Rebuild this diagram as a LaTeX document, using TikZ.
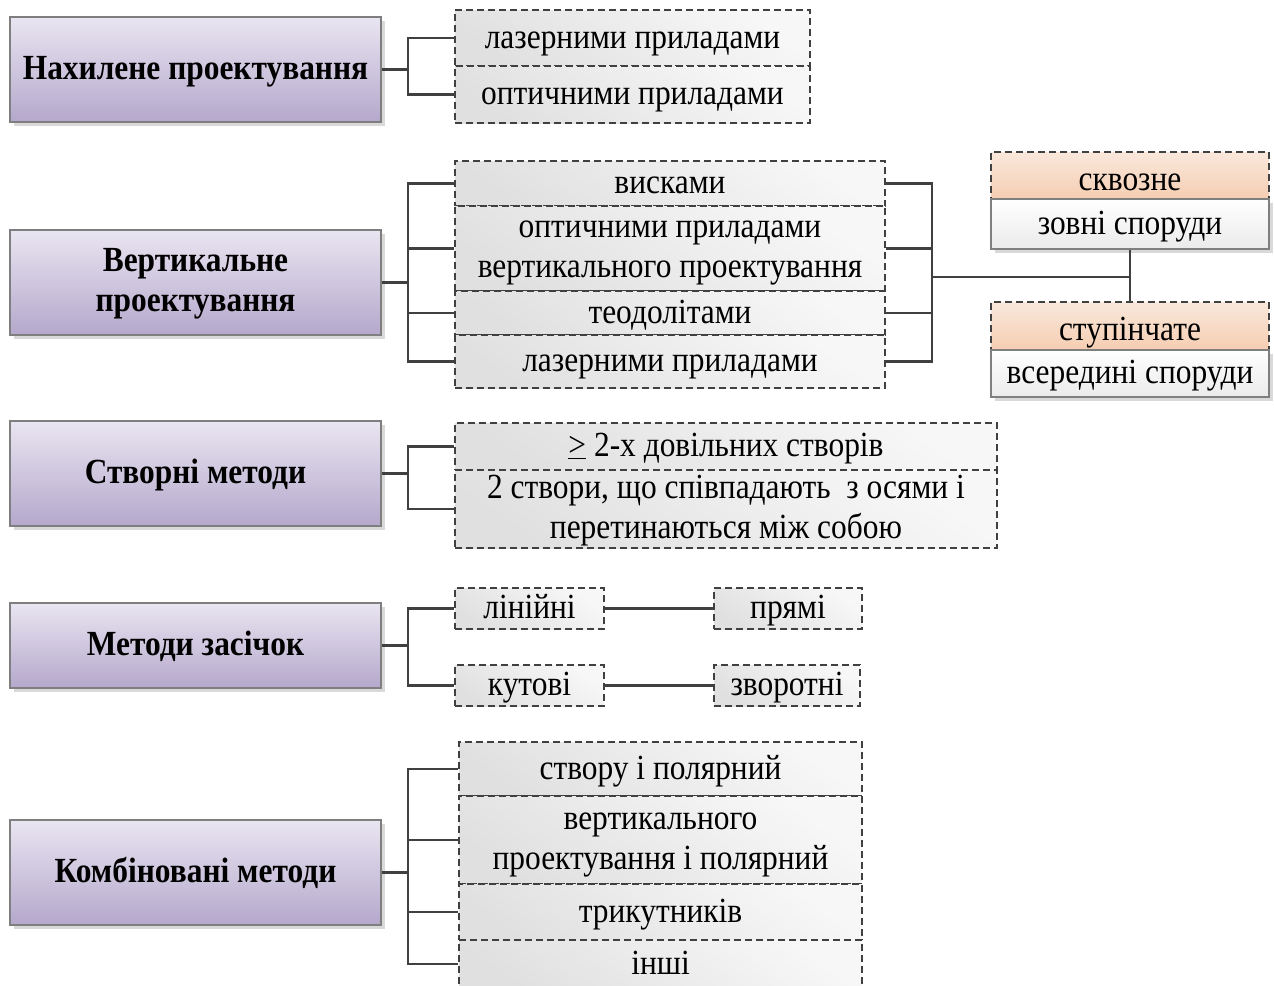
\documentclass[tikz,border=0pt]{standalone}
\usepackage{fontspec}
\setmainfont{Liberation Serif}[FakeStretch=0.89]
\usetikzlibrary{shadows}

\definecolor{lilacTop}{HTML}{E9E5F1}
\definecolor{lilacBot}{HTML}{B5A8CC}
\definecolor{peachTop}{HTML}{FAE8DC}
\definecolor{peachBot}{HTML}{F5CDB1}
\definecolor{lineGray}{HTML}{404040}
\definecolor{edgeGray}{HTML}{7F7F7F}

\begin{document}
\begin{tikzpicture}[x=1pt, y=-1pt,
    every node/.style={font=\fontsize{35.3}{40}\selectfont, inner sep=0pt, text height=30pt, text depth=10pt},
    two/.style={align=center, text height=58pt, text depth=0pt},
    method/.style={draw=edgeGray, line width=1.2pt, top color=lilacTop, bottom color=lilacBot,
        font=\fontsize{35.3}{40}\selectfont\bfseries, minimum width=371pt, minimum height=105pt,
        drop shadow={shadow xshift=4pt, shadow yshift=-4pt, fill=black!25, opacity=0.6}},
    way/.style={draw=lineGray, line width=1.3pt, dash pattern=on 7pt off 4pt,
        top color=black!3, bottom color=black!12, shading angle=-35},
    head/.style={draw=lineGray, line width=1.3pt, dash pattern=on 7pt off 4pt,
        top color=peachTop, bottom color=peachBot, minimum width=278pt, text height=38pt},
    place/.style={draw=edgeGray, line width=1.2pt, top color=white, bottom color=black!8,
        minimum width=278pt,
        drop shadow={shadow xshift=4pt, shadow yshift=-4pt, fill=black!25, opacity=0.6}},
    conn/.style={draw=lineGray, line width=2.4pt}]

    \useasboundingbox (0,0) rectangle (1274,985);

    % left column
    \node[method] (nakh) at (195.5,69.5) {Нахилене проектування};
    \node[method, two] (vert) at (195.5,282.5) {Вертикальне\\проектування};
    \node[method] (stvor) at (195.5,473.5) {Створні методи};
    \node[method, minimum height=85pt] (zasich) at (195.5,645.5) {Методи засічок};
    \node[method] (komb) at (195.5,872.5) {Комбіновані методи};

    % tilted projection
    \node[way, minimum width=355pt, minimum height=56pt] (g1a) at (632.5,38) {лазерними приладами};
    \node[way, minimum width=355pt, minimum height=57pt] (g1b) at (632.5,94.5) {оптичними приладами};

    % vertical projection
    \node[way, minimum width=430pt, minimum height=45pt] (g2a) at (670,183.5) {висками};
    \node[way, two, minimum width=430pt, minimum height=85pt] (g2b) at (670,248.5) {оптичними приладами\\вертикального проектування};
    \node[way, minimum width=430pt, minimum height=44pt] (g2c) at (670,313) {теодолітами};
    \node[way, minimum width=430pt, minimum height=53pt] (g2d) at (670,361.5) {лазерними приладами};

    % kinds of transfer
    \node[head, minimum height=46pt] (skv) at (1130,176) {сквозне};
    \node[place, minimum height=50pt] (zovni) at (1130,224) {зовні споруди};
    \node[head, minimum height=48pt] (stup) at (1130,326) {ступінчате};
    \node[place, minimum height=47pt] (vseredyni) at (1130,373.5) {всередині споруди};

    % alignment methods
    \node[way, minimum width=542pt, minimum height=47pt] (g3a) at (726,446.5) {\underline{>} 2-х довільних створів};
    \node[way, two, minimum width=542pt, minimum height=78pt] (g3b) at (726,509) {2 створи, що співпадають~ з осями і\\перетинаються між собою};

    % intersections
    \node[way, minimum width=149pt, minimum height=41pt] (lin) at (529.5,608.5) {лінійні};
    \node[way, minimum width=149pt, minimum height=41pt] (kut) at (529.5,685.5) {кутові};
    \node[way, minimum width=148pt, minimum height=41pt] (pryami) at (788,608.5) {прямі};
    \node[way, minimum width=146pt, minimum height=41pt] (zvor) at (787,685.5) {зворотні};

    % combined methods
    \node[way, minimum width=403pt, minimum height=54pt] (g5a) at (660.5,769) {створу і полярний};
    \node[way, two, minimum width=403pt, minimum height=88pt] (g5b) at (660.5,840) {вертикального\\проектування і полярний};
    \node[way, minimum width=403pt, minimum height=56pt] (g5c) at (660.5,912) {трикутників};
    \node[way, minimum width=403pt, minimum height=48pt] (g5d) at (660.5,964) {інші};

    % buses
    \coordinate (b1) at (408,69.5);
    \coordinate (b2) at (408,282.5);
    \coordinate (b3) at (408,473.5);
    \coordinate (b4) at (408,645.5);
    \coordinate (b5) at (408,872.5);
    \coordinate (r2) at (932,277);

    \draw[conn] (nakh.east) -- (b1);
    \foreach \n in {g1a,g1b} \draw[conn] (\n.west) -| (b1);
    \draw[conn] (vert.east) -- (b2);
    \foreach \n in {g2a,g2b,g2c,g2d} \draw[conn] (\n.west) -| (b2);
    \foreach \n in {g2a,g2b,g2c,g2d} \draw[conn] (\n.east) -| (r2);
    \draw[conn] (zovni.south) -- (stup.north);
    \draw[conn] (r2) -- (r2 -| zovni.south);
    \draw[conn] (stvor.east) -- (b3);
    \foreach \n in {g3a,g3b} \draw[conn] (\n.west) -| (b3);
    \draw[conn] (zasich.east) -- (b4);
    \foreach \n in {lin,kut} \draw[conn] (\n.west) -| (b4);
    \draw[conn] (lin.east) -- (pryami.west);
    \draw[conn] (kut.east) -- (zvor.west);
    \draw[conn] (komb.east) -- (b5);
    \foreach \n in {g5a,g5b,g5c,g5d} \draw[conn] (\n.west) -| (b5);

\end{tikzpicture}
\end{document}
